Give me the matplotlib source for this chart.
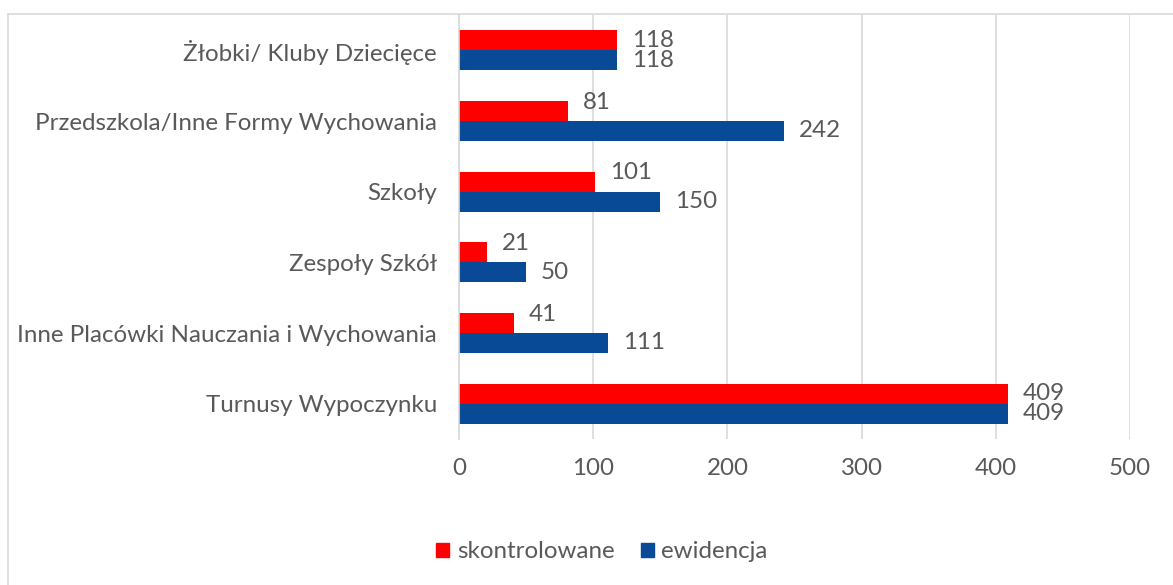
import matplotlib.pyplot as plt
import numpy as np
from matplotlib.patches import Patch
from matplotlib.lines import Line2D

plt.rcParams['font.family'] = ['Lato', 'DejaVu Sans']

# data
categories = ['Żłobki/ Kluby Dziecięce', 'Przedszkola/Inne Formy Wychowania', 'Szkoły',
              'Zespoły Szkół', 'Inne Placówki Nauczania i Wychowania', 'Turnusy Wypoczynku']
skontrolowane = [118, 81, 101, 21, 41, 409]
ewidencja = [118, 242, 150, 50, 111, 409]
xticks = [0, 100, 200, 300, 400, 500]

RED = '#FF0000'
BLUE = '#084A96'
TXT = '#595959'
FS = 17.4

fig = plt.figure(figsize=(11.73, 5.85), dpi=100)
ax = fig.add_axes([459/1173, 146/585, 671/1173, 424/585])

y = np.arange(len(categories))
h = 0.283
ax.barh(y - h/2, skontrolowane, height=h, color=RED, label='skontrolowane')
ax.barh(y + h/2, ewidencja, height=h, color=BLUE, label='ewidencja')

for i in range(len(categories)):
    s, e = skontrolowane[i], ewidencja[i]
    dy = 0 if s == e else 9   # excel pushes the red label up a bit
    ax.annotate(str(s), (s, y[i] - h/2), xytext=(15, dy), textcoords='offset pixels',
                va='center', ha='left', fontsize=FS, color=TXT)
    ax.annotate(str(e), (e, y[i] + h/2), xytext=(15, 0), textcoords='offset pixels',
                va='center', ha='left', fontsize=FS, color=TXT)

ax.set_ylim(len(categories) - 0.5, -0.5)
ax.set_xlim(0, 500)
ax.set_yticks(y)
ax.set_yticklabels(categories)
ax.set_xticks(xticks)
ax.tick_params(axis='both', length=0, labelsize=FS, labelcolor=TXT)
ax.tick_params(axis='y', pad=16)
ax.tick_params(axis='x', pad=14)
ax.grid(axis='x', color='#D9D9D9', linewidth=1.2)
ax.set_axisbelow(True)
for sp in ['top', 'right', 'bottom']:
    ax.spines[sp].set_visible(False)
ax.spines['left'].set_color('#D9D9D9')
ax.spines['left'].set_linewidth(1.2)

handles = [Patch(color=RED, label='skontrolowane'), Patch(color=BLUE, label='ewidencja')]
leg = fig.legend(handles=handles, loc='center', bbox_to_anchor=(602/1173, 1 - 552/585), ncol=2,
                 frameon=False, fontsize=FS, handlelength=0.55, handleheight=0.55,
                 handletextpad=0.3, columnspacing=1.1)
for t in leg.get_texts():
    t.set_color(TXT)

# chart-area border (cropped at right and bottom)
fig.add_artist(Line2D([8/1173, 8/1173], [0, 1 - 14/585], color='#D9D9D9', lw=1.2,
                      transform=fig.transFigure))
fig.add_artist(Line2D([8/1173, 1], [1 - 14/585, 1 - 14/585], color='#D9D9D9', lw=1.2,
                      transform=fig.transFigure))

fig.savefig('out.png', dpi=100, facecolor='white')
